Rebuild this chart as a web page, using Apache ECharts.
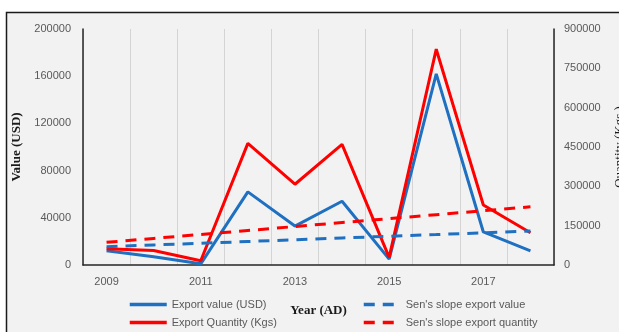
<!DOCTYPE html>
<html><head><meta charset="utf-8">
<script src="https://cdn.jsdelivr.net/npm/echarts@6/dist/echarts.min.js"></script>
<style>html,body{margin:0;padding:0;background:#fff;}#c{width:619px;height:332px;}</style>
</head><body><div id="c"></div>
<script>
var years = ['2009','2010','2011','2012','2013','2014','2015','2016','2017','2018'];
var exportValue = [12000, 7000, 1000, 62000, 33000, 54000, 5000, 162000, 28000, 12000];
var exportQuantity = [62000, 55000, 16000, 464000, 308000, 460000, 29000, 823000, 229000, 123000];
var senValue = [15500, 17000, 18400, 19900, 21400, 22900, 24400, 25800, 27300, 28800];
var senQuantity = [86500, 101500, 116600, 131600, 146700, 161800, 176800, 191900, 207000, 222000];

var chart = echarts.init(document.getElementById('c'));
var tickStyle = {color:'#595959', fontFamily:'Liberation Sans', fontSize:11};
var legText = {color:'#595959', fontFamily:'Liberation Sans', fontSize:11};
function leg(name, left, top){
  return {data:[name], left:left, top:top, itemWidth:37, itemHeight:3, textStyle:legText,
    padding:0, itemGap:0, itemStyle:{opacity:0}, lineStyle:{width:3.5}};
}
var plain = function(v){ return String(v); };
chart.setOption({
  animation:false,
  graphic:[{type:'rect', z:-10, shape:{x:6.5,y:12.5,width:640,height:340},
    style:{fill:'#f2f2f2', stroke:'#1a1a1a', lineWidth:1.5}}],
  grid:{left:83, right:65, top:29, bottom:67, containLabel:false, outerBoundsMode:'none'},
  legend:[
    leg('Export value (USD)', 128, 299),
    leg('Export Quantity (Kgs)', 128, 317),
    leg("Sen's slope export value", 362, 299),
    leg("Sen's slope export quantity", 362, 317)
  ],
  xAxis:{type:'category', data:years, boundaryGap:true,
    axisLine:{lineStyle:{color:'#262626', width:1.5}},
    axisTick:{show:false},
    axisLabel:Object.assign({interval:1, margin:11}, tickStyle),
    splitLine:{show:true, interval:0, lineStyle:{color:'#d4d4d4', width:1}},
    name:'Year (AD)', nameLocation:'middle', nameGap:39,
    nameTextStyle:{fontFamily:'Liberation Serif', fontWeight:'bold', fontSize:13, color:'#1a1a1a'}
  },
  yAxis:[
    {type:'value', min:0, max:200000, interval:40000, position:'left',
     axisLine:{show:true, lineStyle:{color:'#262626', width:1.5}}, axisTick:{show:false},
     splitLine:{show:false}, axisLabel:Object.assign({margin:12, formatter:plain}, tickStyle),
     name:'Value (USD)', nameLocation:'middle', nameGap:57, nameRotate:90,
     nameTextStyle:{fontFamily:'Liberation Serif', fontWeight:'bold', fontSize:13, color:'#1a1a1a'}},
    {type:'value', min:0, max:900000, interval:150000, position:'right',
     axisLine:{show:true, lineStyle:{color:'#262626', width:1.5}}, axisTick:{show:false},
     splitLine:{show:false}, axisLabel:Object.assign({margin:10, formatter:plain}, tickStyle),
     name:'Quantity (Kgs.)', nameLocation:'middle', nameGap:59, nameRotate:90, nameMoveOverlap:false,
     nameTextStyle:{fontFamily:'Liberation Serif', fontSize:13, color:'#1a1a1a'}}
  ],
  series:[
    {name:'Export value (USD)', type:'line', yAxisIndex:0, data:exportValue, symbol:'none',
     lineStyle:{color:'#1f70c1', width:3}, itemStyle:{color:'#1f70c1'}},
    {name:'Export Quantity (Kgs)', type:'line', yAxisIndex:1, data:exportQuantity, symbol:'none',
     lineStyle:{color:'#ff0000', width:3}, itemStyle:{color:'#ff0000'}},
    {name:"Sen's slope export value", type:'line', yAxisIndex:0, data:senValue, symbol:'none',
     lineStyle:{color:'#1f70c1', width:3, type:[11,8]}, itemStyle:{color:'#1f70c1'}},
    {name:"Sen's slope export quantity", type:'line', yAxisIndex:1, data:senQuantity, symbol:'none',
     lineStyle:{color:'#ff0000', width:3, type:[11,8]}, itemStyle:{color:'#ff0000'}}
  ]
});
</script></body></html>
